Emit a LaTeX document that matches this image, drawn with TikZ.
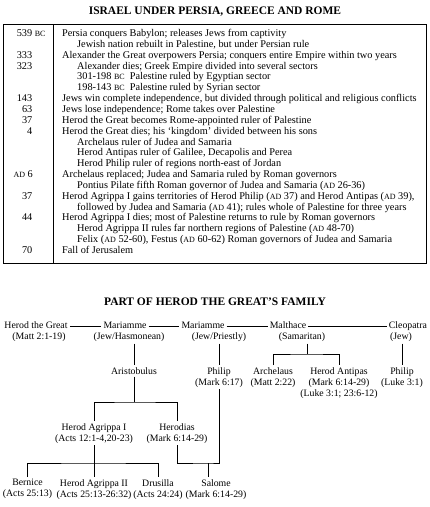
\documentclass[tikz,border=0pt]{standalone}
\usepackage{fontspec}
\setmainfont{Liberation Serif}
\usetikzlibrary{positioning}
\newcommand{\smc}[1]{{\fontsize{8}{9}\selectfont #1}}

\begin{document}
\begin{tikzpicture}[
    x=1pt, y=-1pt,
    heading/.style={font=\bfseries\fontsize{11.5}{13}\selectfont, inner sep=0pt},
    yr/.style={anchor=east, font=\fontsize{10.3}{11}\selectfont, text height=7pt, text depth=2pt, inner sep=0pt},
    ev/.style={anchor=west, font=\fontsize{10.3}{11}\selectfont, text height=7pt, text depth=2pt, inner sep=0pt},
    tablebox/.style={draw, line width=0.7pt},
    spouse/.style={font=\fontsize{9.8}{11}\selectfont, text height=7pt, text depth=2pt, inner sep=2pt},
    person/.style={anchor=north, align=center, font=\fontsize{9.8}{11}\selectfont, inner sep=2pt},
    famline/.style={line width=0.6pt},
]
\useasboundingbox (0,0) rectangle (430,507);

% Timeline table
\node[heading] (maintitle) at (215,12) {ISRAEL UNDER PERSIA, GREECE AND ROME};
\draw[tablebox] (3,24) rectangle (426,263);
\draw[line width=0.6pt] (53,24) -- (53,263);

\begin{scope}[shift={(0,34)}, y=-10.85pt]
\node[yr] (yr0) at (32.5,0) {539\rlap{ \smc{BC}}};
\node[ev] (ev0) at (62,0) {Persia conquers Babylon; releases Jews from captivity};
\node[ev] (ev1) at (77,1) {Jewish nation rebuilt in Palestine, but under Persian rule};
\node[yr] (yr2) at (32.5,2) {333};
\node[ev] (ev2) at (62,2) {Alexander the Great overpowers Persia; conquers entire Empire within two years};
\node[yr] (yr3) at (32.5,3) {323};
\node[ev] (ev3) at (77,3) {Alexander dies; Greek Empire divided into several sectors};
\node[ev] (ev4) at (77,4) {301-198 \smc{BC}\enspace Palestine ruled by Egyptian sector};
\node[ev] (ev5) at (77,5) {198-143 \smc{BC}\enspace Palestine ruled by Syrian sector};
\node[yr] (yr6) at (32.5,6) {143};
\node[ev] (ev6) at (62,6) {Jews win complete independence, but divided through political and religious conflicts};
\node[yr] (yr7) at (32.5,7) {63};
\node[ev] (ev7) at (62,7) {Jews lose independence; Rome takes over Palestine};
\node[yr] (yr8) at (32.5,8) {37};
\node[ev] (ev8) at (62,8) {Herod the Great becomes Rome-appointed ruler of Palestine};
\node[yr] (yr9) at (32.5,9) {4};
\node[ev] (ev9) at (62,9) {Herod the Great dies; his `kingdom' divided between his sons};
\node[ev] (ev10) at (77,10) {Archelaus ruler of Judea and Samaria};
\node[ev] (ev11) at (77,11) {Herod Antipas ruler of Galilee, Decapolis and Perea};
\node[ev] (ev12) at (77,12) {Herod Philip ruler of regions north-east of Jordan};
\node[yr] (yr13) at (33,13) {\smc{AD} 6};
\node[ev] (ev13) at (62,13) {Archelaus replaced; Judea and Samaria ruled by Roman governors};
\node[ev] (ev14) at (77,14) {Pontius Pilate fifth Roman governor of Judea and Samaria (\smc{AD} 26-36)};
\node[yr] (yr15) at (32.5,15) {37};
\node[ev] (ev15) at (62,15) {Herod Agrippa I gains territories of Herod Philip (\smc{AD} 37) and Herod Antipas (\smc{AD} 39),};
\node[ev] (ev16) at (77,16) {followed by Judea and Samaria (\smc{AD} 41); rules whole of Palestine for three years};
\node[yr] (yr17) at (32.5,17) {44};
\node[ev] (ev17) at (62,17) {Herod Agrippa I dies; most of Palestine returns to rule by Roman governors};
\node[ev] (ev18) at (77,18) {Herod Agrippa II rules far northern regions of Palestine (\smc{AD} 48-70)};
\node[ev] (ev19) at (77,19) {Felix (\smc{AD} 52-60), Festus (\smc{AD} 60-62) Roman governors of Judea and Samaria};
\node[yr] (yr20) at (32.5,20) {70};
\node[ev] (ev20) at (62,20) {Fall of Jerusalem};
\end{scope}

% Family tree: Herod and his wives
\node[heading] (famtitle) at (215,302) {PART OF HEROD THE GREAT'S FAMILY};
\node[spouse] (htg) at (36,326) {Herod the Great};
\node[spouse] (mar1) at (125,326) {Mariamme};
\node[spouse] (mar2) at (203,326) {Mariamme};
\node[spouse] (malth) at (288,326) {Malthace};
\node[spouse] (cleo) at (408,326) {Cleopatra};
\node[spouse] (htgref) at (39,337) {(Matt 2:1-19)};
\node[spouse] (mar1ref) at (129,337) {(Jew/Hasmonean)};
\node[spouse] (mar2ref) at (219,337) {(Jew/Priestly)};
\node[spouse] (malthref) at (302,337) {(Samaritan)};
\node[spouse] (cleoref) at (401,337) {(Jew)};
\draw[famline] (htg) -- (mar1);
\draw[famline] (mar1) -- (mar2);
\draw[famline] (mar2) -- (malth);
\draw[famline] (malth) -- (cleo);

% Children
\node[person] (aristob) at (134,365.2) {Aristobulus};
\node[person] (philip1) at (219,365.2) {Philip\\(Mark 6:17)};
\node[person] (archel) at (273,365.2) {Archelaus\\(Matt 2:22)};
\node[person] (antipas) at (339,365.2) {Herod Antipas\\(Mark 6:14-29)\\(Luke 3:1; 23:6-12)};
\node[person] (philip2) at (402,365.2) {Philip\\(Luke 3:1)};
\coordinate (malthj) at (307,354);
\draw[famline] (mar1ref.south -| aristob) -- (aristob.north);
\draw[famline] (mar2ref.south -| philip1) -- (philip1.north);
\draw[famline] (malthref.south -| malthj) -- (malthj);
\draw[famline] (archel.north) |- (malthj) -| (antipas.north);
\draw[famline] (cleoref.south -| philip2) -- (philip2.north);

% Grandchildren
\node[person] (agrippa1) at (94,421.2) {Herod Agrippa I\\(Acts 12:1-4,20-23)};
\node[person] (herodias) at (177,421.2) {Herodias\\(Mark 6:14-29)};
\coordinate (aristj) at (134,402);
\draw[famline] (aristob.south) -- (aristj);
\draw[famline] (agrippa1.north) |- (aristj) -| (herodias.north);

% Great-grandchildren
\node[person] (bernice) at (27.5,477.2) {Bernice\\(Acts 25:13)};
\node[person] (agrippa2) at (94,477.2) {Herod Agrippa II\\(Acts 25:13-26:32)};
\node[person] (drusilla) at (158,477.2) {Drusilla\\(Acts 24:24)};
\node[person] (salome) at (216,477.2) {Salome\\(Mark 6:14-29)};
\coordinate (agrj) at (94,463);
\coordinate (salj) at (208,463);
\draw[famline] (agrippa1.south) -- (agrippa2.north);
\draw[famline] (bernice.north) |- (agrj) -| (drusilla.north);
\draw[famline] (herodias.south) |- (salj) -| (philip1.south);
\draw[famline] (salj) -- (salj |- salome.north);
\end{tikzpicture}
\end{document}
